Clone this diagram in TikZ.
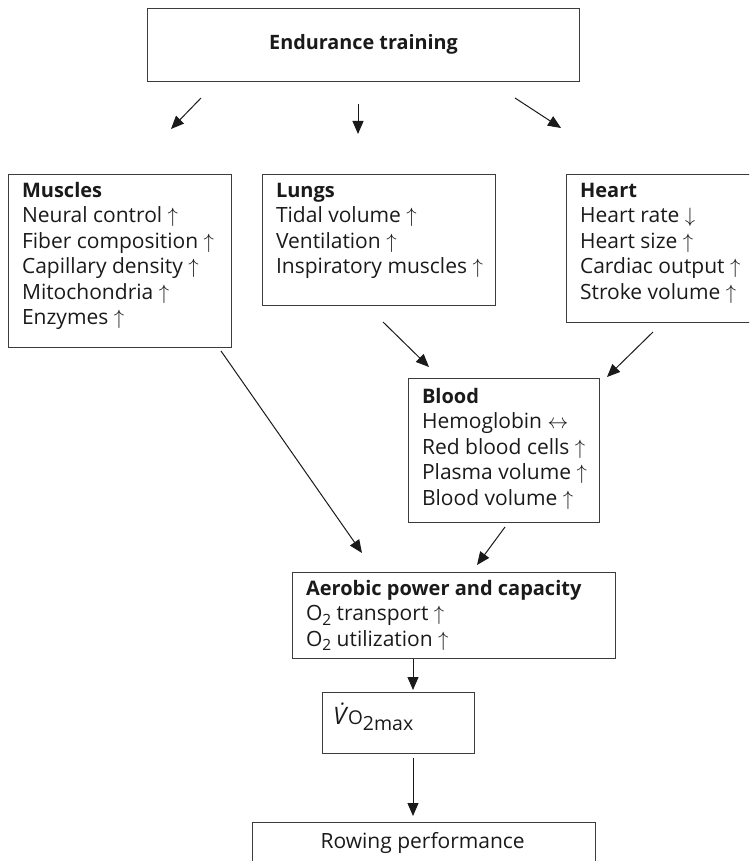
\documentclass[tikz,border=0pt]{standalone}
\usepackage{fontspec}
\setmainfont{Open Sans}
\usetikzlibrary{arrows.meta}
\definecolor{boxline}{HTML}{3C3C3C}
\definecolor{textcol}{HTML}{1A1A1A}
\newcommand\up{ $\uparrow$}
\newcommand\down{ $\downarrow$}
\newcommand\both{ $\leftrightarrow$}
\newcommand\hd[1]{{\fontsize{20}{25.4}\selectfont\bfseries #1}}
\newcommand\lowsub[1]{\raisebox{-4.5pt}{\fontsize{15.5}{15}\selectfont #1}}
\newcommand\panelbody[4]{\parbox[c][#2][t]{#1}{\fontsize{21}{25.4}\selectfont\rule{0pt}{#3}#4}}
\begin{document}
\begin{tikzpicture}[x=1pt,y=-1pt,
  panel/.style={draw=boxline, line width=1.1pt, rectangle, inner xsep=13.5pt, inner ysep=0pt, anchor=north west, text=textcol},
  arr/.style={draw=textcol, line width=1pt, -{Triangle[length=13pt,width=11pt]}}]
\useasboundingbox (0,0) rectangle (749,861);
\clip (0,0) rectangle (749,861);

\node[panel, minimum width=432pt, minimum height=73pt] (train) at (147,8)
  {\parbox[c][73pt][t]{405pt}{\centering\fontsize{19.8}{25}\selectfont\rule{0pt}{41pt}\textbf{Endurance training}}};

\node[panel, minimum width=223pt, minimum height=173pt] (muscles) at (8,174)
  {\panelbody{196pt}{173pt}{23pt}{\mbox{\hd{Muscles}}\\\mbox{Neural control\up}\\\mbox{Fiber composition\up}\\\mbox{Capillary density\up}\\\mbox{Mitochondria\up}\\\mbox{Enzymes\up}}};

\node[panel, minimum width=233pt, minimum height=131pt] (lungs) at (262,174)
  {\panelbody{206pt}{131pt}{23pt}{\mbox{\hd{Lungs}}\\\mbox{Tidal volume\up}\\\mbox{Ventilation\up}\\\mbox{Inspiratory muscles\up}}};

\node[panel, minimum width=192pt, minimum height=148pt] (heart) at (566,174)
  {\panelbody{165pt}{148pt}{23pt}{\mbox{\hd{Heart}}\\\mbox{Heart rate\down}\\\mbox{Heart size\up}\\\mbox{Cardiac output\up}\\\mbox{Stroke volume\up}}};

\node[panel, minimum width=191pt, minimum height=144pt] (blood) at (408,378)
  {\panelbody{164pt}{144pt}{25pt}{\mbox{\hd{Blood}}\\\mbox{Hemoglobin\both}\\\mbox{Red blood cells\up}\\\mbox{Plasma volume\up}\\\mbox{Blood volume\up}}};

\node[panel, minimum width=323pt, minimum height=86pt] (aerobic) at (292,572)
  {\panelbody{296pt}{86pt}{23pt}{\mbox{\hd{Aerobic power and capacity}}\\\mbox{O\lowsub{2} transport\up}\\\mbox{O\lowsub{2} utilization\up}}};

\node[panel, minimum width=152pt, minimum height=61pt] (vo2) at (322,692)
  {\parbox[c][61pt][t]{125pt}{\fontsize{24}{25}\selectfont\hspace*{-3pt}\rule{0pt}{32pt}\textit{V̇}\kern-1.5pt{\fontsize{19}{16}\selectfont O}\raisebox{-5.5pt}{\fontsize{19.5}{16}\selectfont 2max}}};

\node[panel, minimum width=343pt, minimum height=60pt] (rowing) at (252,822)
  {\parbox[c][60pt][t]{316pt}{\fontsize{21}{25}\selectfont\hspace*{54.5pt}\rule{0pt}{26pt}Rowing performance}};

\coordinate (a1s) at (201,98);  \coordinate (a1e) at (171,129);
\coordinate (a2s) at (358,104); \coordinate (a2e) at (358,134);
\coordinate (a3s) at (515,98);  \coordinate (a3e) at (561,128);
\coordinate (a4s) at (383,322); \coordinate (a4e) at (429,367);
\coordinate (a5s) at (653,332); \coordinate (a5e) at (607,377);
\coordinate (a6s) at (221,351); \coordinate (a6e) at (362,553);
\coordinate (a7s) at (505,527); \coordinate (a7e) at (477,565);
\coordinate (a8s) at (413,659); \coordinate (a8e) at (413,690);
\coordinate (a9s) at (413,758); \coordinate (a9e) at (413,816);

\draw[arr] (a1s) -- (a1e);
\draw[arr] (a2s) -- (a2e);
\draw[arr] (a3s) -- (a3e);
\draw[arr] (a4s) -- (a4e);
\draw[arr] (a5s) -- (a5e);
\draw[arr] (a6s) -- (a6e);
\draw[arr] (a7s) -- (a7e);
\draw[arr] (a8s) -- (a8e);
\draw[arr] (a9s) -- (a9e);
\end{tikzpicture}
\end{document}
